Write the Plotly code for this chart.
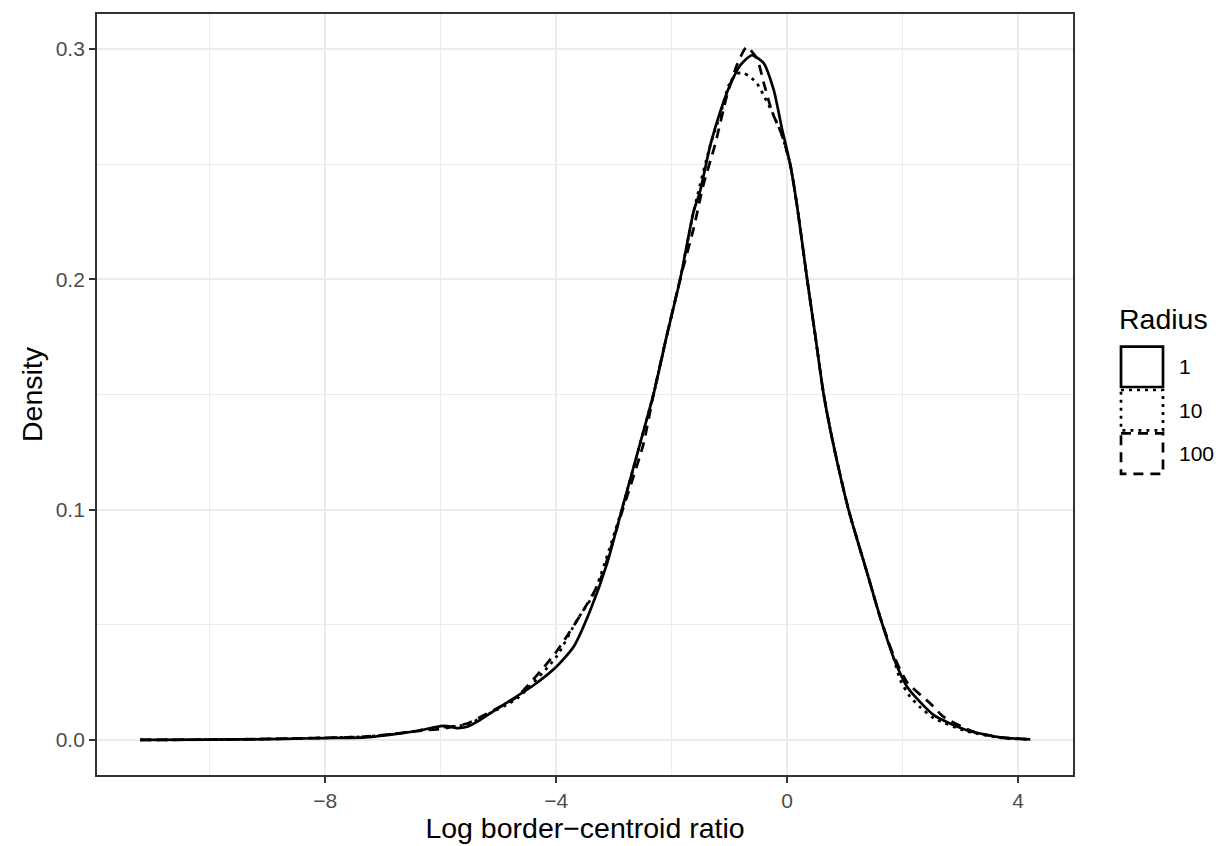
import plotly.graph_objects as go

# ---- data ----
radius_labels = ["1", "10", "100"]

x_r1 = [-11.2, -10, -9, -8.4, -8, -7.3, -6.7, -6.3, -6.0, -5.85, -5.72, -5.54, -5.32, -4.97,
        -4.39, -4.0, -3.70, -3.41, -3.12, -2.86, -2.55, -2.31, -2.08, -1.85, -1.62, -1.51,
        -1.33, -1.16, -0.99, -0.81, -0.61, -0.41, -0.23, -0.09, 0.055, 0.17, 0.345, 0.485,
        0.63, 0.80, 1.06, 1.38, 1.61, 1.84, 2.08, 2.54, 3.11, 3.69, 4.21]
y_r1 = [0.0001, 0.0002, 0.0004, 0.0007, 0.0009, 0.0012, 0.0029, 0.0045, 0.0061, 0.0060,
        0.0052, 0.0058, 0.0087, 0.0144, 0.0238, 0.0317, 0.0404, 0.0563, 0.0765, 0.1003,
        0.1284, 0.1505, 0.176, 0.2003, 0.2294, 0.238, 0.2583, 0.2727, 0.2843, 0.2930,
        0.2973, 0.2940, 0.2820, 0.2655, 0.2497, 0.2323, 0.2003, 0.176, 0.1505, 0.1284,
        0.1003, 0.0730, 0.0534, 0.036, 0.0231, 0.0108, 0.0043, 0.0012, 0.0003]

x_r10 = [-11.2, -10, -9, -8.4, -8, -7.3, -6.7, -6.3, -6.0, -5.54, -5.2, -4.68, -4.0, -3.64,
         -3.35, -2.86, -2.55, -2.31, -2.08, -1.85, -1.62, -1.33, -1.16, -1.01, -0.87, -0.76,
         -0.64, -0.52, -0.41, -0.26, -0.09, 0.055, 0.17, 0.345, 0.485, 0.63, 0.80, 1.06,
         1.38, 1.61, 1.84, 1.96, 2.13, 2.30, 2.54, 3.11, 3.69, 4.21]
y_r10 = [0.0001, 0.0002, 0.0005, 0.0008, 0.001, 0.0015, 0.003, 0.0045, 0.0055, 0.0068,
         0.011, 0.018, 0.036, 0.052, 0.0635, 0.1003, 0.1284, 0.1505, 0.176, 0.2003, 0.2294,
         0.2583, 0.2713, 0.2843, 0.2893, 0.2896, 0.2879, 0.285, 0.280, 0.2727, 0.2626,
         0.2497, 0.2323, 0.2003, 0.176, 0.1505, 0.1284, 0.1003, 0.0730, 0.0534, 0.036,
         0.026, 0.0188, 0.0144, 0.0095, 0.0038, 0.0010, 0.0003]

x_r100 = [-11.2, -10, -9, -8.4, -8, -7.3, -6.7, -6.3, -6.0, -5.54, -5.20, -4.68, -4.0,
          -3.53, -3.24, -2.89, -2.49, -2.31, -2.08, -1.85, -1.62, -1.45, -1.25, -1.04,
          -0.87, -0.70, -0.52, -0.41, -0.26, -0.09, 0.055, 0.17, 0.345, 0.485, 0.63, 0.80,
          1.06, 1.38, 1.61, 1.84, 2.08, 2.48, 2.71, 3.23, 3.69, 4.21]
y_r100 = [0.0001, 0.0002, 0.0005, 0.0008, 0.001, 0.0015, 0.003, 0.0042, 0.0048, 0.0072,
          0.0115, 0.0188, 0.0382, 0.0563, 0.0693, 0.0967, 0.1284, 0.1505, 0.176, 0.2003,
          0.222, 0.241, 0.2583, 0.280, 0.293, 0.3009, 0.2958, 0.2857, 0.2727, 0.2626,
          0.2497, 0.2323, 0.2003, 0.176, 0.1505, 0.1284, 0.1003, 0.0730, 0.0534, 0.037,
          0.025, 0.0159, 0.0101, 0.0036, 0.0012, 0.0004]

x_ticks = [-8, -4, 0, 4]
y_ticks = [0.0, 0.1, 0.2, 0.3]

# ---- styles ----
FONT = "Liberation Sans, Arial, sans-serif"
LW = 2.7
TITLE_SIZE = 28.5
TICK_SIZE = 21
dashes = ["solid", "3px,5px", "10px,7px"]
series = [(x_r1, y_r1), (x_r10, y_r10), (x_r100, y_r100)]

OFF = 8  # page body margin
W, H = 1224 - OFF, 846 - OFF
# panel edges in page pixels
L, R, T, B = 97, 1073, 12, 775

fig = go.Figure()
for (xs, ys), lab, d in zip(series, radius_labels, dashes):
    fig.add_trace(go.Scatter(
        x=xs, y=ys, mode="lines", name=lab, showlegend=False,
        line=dict(color="black", width=LW, dash=d, shape="spline", smoothing=0.6),
    ))

def px(xp):
    return (xp - L) / (R - L)

def py(yp):
    return (B - yp) / (B - T)

shapes = []
annotations = []
annotations.append(dict(
    text="Radius", x=px(1117), y=py(318), xref="paper", yref="paper",
    xanchor="left", yanchor="middle", showarrow=False,
    font=dict(family=FONT, size=TITLE_SIZE, color="black")))
key_top = 344
key_h = 43.5
for i, (lab, d) in enumerate(zip(radius_labels, dashes)):
    y0 = key_top + i * key_h
    shapes.append(dict(
        type="rect", xref="paper", yref="paper",
        x0=px(1121), x1=px(1163), y0=py(y0 + 1.5), y1=py(y0 + key_h - 1.5),
        line=dict(color="black", width=LW, dash=d), fillcolor="rgba(0,0,0,0)"))
    annotations.append(dict(
        text=lab, x=px(1177), y=py(y0 + key_h / 2), xref="paper", yref="paper",
        xanchor="left", yanchor="middle", showarrow=False,
        font=dict(family=FONT, size=TICK_SIZE, color="black")))

fig.update_layout(
    width=W, height=H,
    margin=dict(l=L - OFF, r=W - (R - OFF), t=T - OFF, b=H - (B - OFF), pad=0),
    paper_bgcolor="white", plot_bgcolor="white",
    font=dict(family=FONT, color="black"),
    shapes=shapes, annotations=annotations,
    xaxis=dict(
        range=[-11.95, 4.95], tickvals=x_ticks,
        tickfont=dict(family=FONT, size=TICK_SIZE, color="#4D4D4D"),
        showgrid=True, gridcolor="#EBEBEB", gridwidth=2.4,
        minor=dict(dtick=2, tick0=0, showgrid=True, gridcolor="#EBEBEB", gridwidth=1.2, ticklen=0),
        zeroline=False, showline=True, mirror=True, linecolor="#333333", linewidth=1.8,
        ticks="outside", ticklen=6, tickwidth=2, tickcolor="#333333",
        title=dict(text="Log border\u2212centroid ratio", font=dict(family=FONT, size=TITLE_SIZE, color="black"), standoff=3),
    ),
    yaxis=dict(
        range=[-0.01515, 0.3152], tickvals=y_ticks, tickformat=".1f",
        tickfont=dict(family=FONT, size=TICK_SIZE, color="#4D4D4D"),
        showgrid=True, gridcolor="#EBEBEB", gridwidth=2.4,
        minor=dict(dtick=0.05, tick0=0, showgrid=True, gridcolor="#EBEBEB", gridwidth=1.2, ticklen=0),
        zeroline=False, showline=True, mirror=True, linecolor="#333333", linewidth=1.8,
        ticks="outside", ticklen=6, tickwidth=2, tickcolor="#333333",
        title=dict(text="Density", font=dict(family=FONT, size=TITLE_SIZE, color="black"), standoff=5),
    ),
)

fig.write_html("out.html")
